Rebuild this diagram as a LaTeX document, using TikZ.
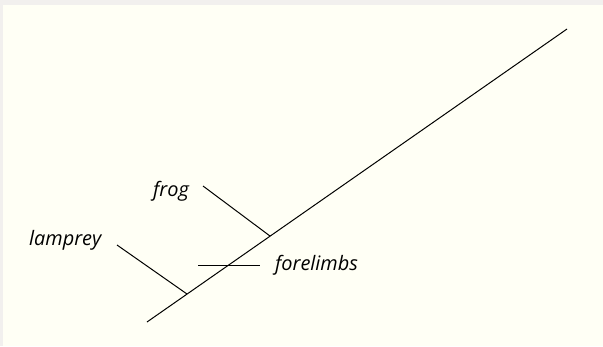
\documentclass[tikz,border=0pt]{standalone}
\usepackage{fontspec}
\setmainfont{Open Sans}
\usepackage{tikz}
\usetikzlibrary{positioning}
\definecolor{panel}{HTML}{FFFFF5}
\definecolor{rim}{HTML}{F2F0EE}
\tikzset{
  taxon/.style  = {font=\itshape\fontsize{20}{24}\selectfont, inner sep=0pt},
  branch/.style = {line width=1bp, draw=black},
}
\begin{document}
\begin{tikzpicture}[x=1bp, y=-1bp]
  \useasboundingbox (0,0) rectangle (603,346);
  \fill[rim] (0,0) rectangle (603,346);
  \fill[panel] (3,5) rectangle (603,346);
  % main stem and its junctions
  \coordinate (root) at (147,322);
  \coordinate (tip)  at (567,29);
  \coordinate (jl)   at (187,294);
  \coordinate (jf)   at (270,236);
  \coordinate (ltip) at (117,245);
  \coordinate (ftip) at (203,186);
  \coordinate (fl0)  at (198,265);
  \coordinate (fl1)  at (260,265);
  \node[taxon, anchor=base west] (lamprey)   at (29,245.5) {lamprey};
  \node[taxon, anchor=base west] (frog)      at (153,196)  {frog};
  \node[taxon, anchor=base west] (forelimbs) at (275,270.5) {forelimbs};
  \draw[branch] (root) -- (tip);
  \draw[branch] (ltip) -- (jl);
  \draw[branch] (ftip) -- (jf);
  \draw[branch] (fl0) -- (fl1);
\end{tikzpicture}
\end{document}
